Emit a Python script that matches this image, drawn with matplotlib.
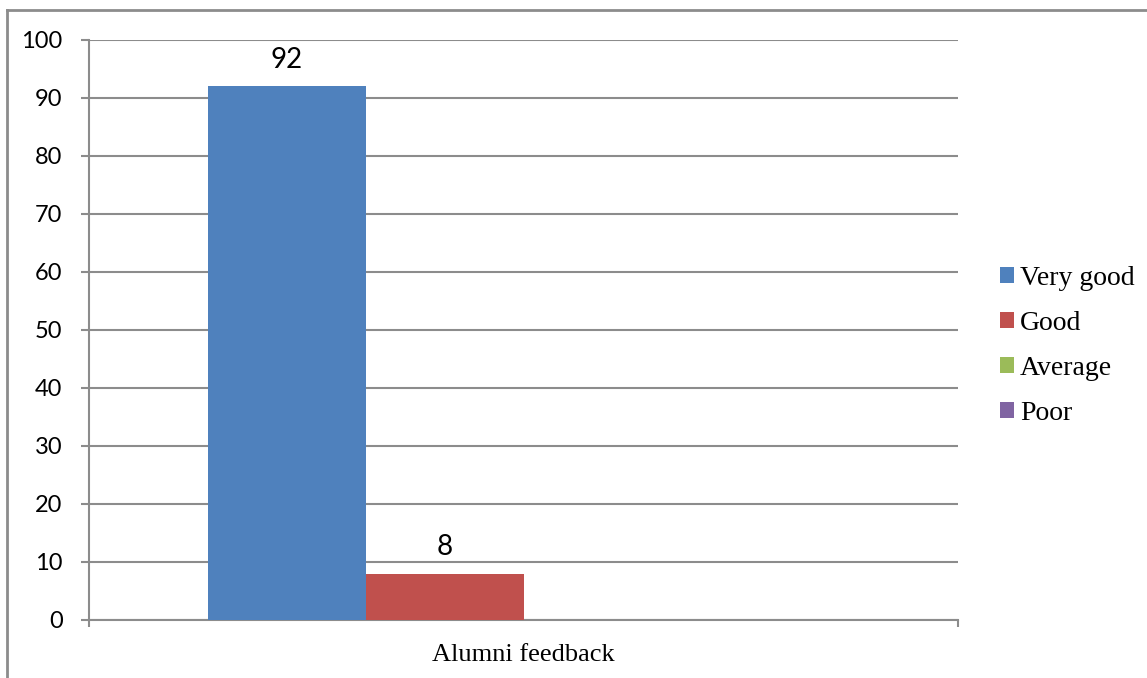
import matplotlib
matplotlib.use('Agg')
import matplotlib.pyplot as plt
from matplotlib.patches import Patch
from matplotlib.lines import Line2D

categories = ['Alumni feedback']
series = ['Very good', 'Good', 'Average', 'Poor']
values = [92, 8, 0, 0]
colors = ['#4F81BD', '#C0504D', '#9BBB59', '#8064A2']
yticks = [0, 10, 20, 30, 40, 50, 60, 70, 80, 90, 100]

grid_col = '#8c8c8c'

fig = plt.figure(figsize=(11.47, 6.78), dpi=100)
ax = fig.add_axes([89/1147, 1 - 620/678, (958 - 89)/1147, (620 - 40)/678])

# excel style: gap width 150%
w = 1 / (len(series) + 1.5)
for i, (s, v, c) in enumerate(zip(series, values, colors)):
    x = (i - (len(series) - 1) / 2) * w
    ax.bar(x, v, width=w, color=c, zorder=3)
    if v > 0:
        ax.annotate(str(v), (x, v), xytext=(0, 13.5), textcoords='offset points',
                    ha='center', va='baseline', fontsize=20, family='Lato')

ax.set_xlim(-0.5, 0.5)
ax.set_ylim(0, 100)
ax.set_yticks(yticks)
ax.yaxis.grid(True, color=grid_col, linewidth=1.5, zorder=0)
for sp in ['top', 'right']:
    ax.spines[sp].set_visible(False)
for sp in ['left', 'bottom']:
    ax.spines[sp].set_color(grid_col)
    ax.spines[sp].set_linewidth(1.5)
ax.tick_params(axis='y', length=6, width=1.5, color=grid_col, pad=13, labelsize=17)
for t in ax.get_yticklabels():
    t.set_family('Lato')

ax.set_xticks([0])
ax.set_xticklabels(categories, family='Liberation Serif', fontsize=19)
ax.set_xticks([-0.5, 0.5], minor=True)
ax.tick_params(axis='x', which='major', length=0, pad=17)
ax.tick_params(axis='x', which='minor', length=5, width=1.5, color=grid_col)

handles = [Patch(facecolor=c, edgecolor='none') for c in colors]
ax.legend(handles, series, loc='center left', bbox_to_anchor=(1000/1147, 1 - 346/678),
          bbox_transform=fig.transFigure, frameon=False,
          prop={'family': 'Liberation Serif', 'size': 20},
          handlelength=0.5, handleheight=0.5, handletextpad=0.22,
          labelspacing=0.72, borderaxespad=0, borderpad=0)

# outer chart border (top and left visible)
fig.add_artist(Line2D([7/1147, 7/1147], [0, 1 - 10/678], color='#8c8c8c', linewidth=2))
fig.add_artist(Line2D([7/1147, 1], [1 - 10/678, 1 - 10/678], color='#8c8c8c', linewidth=2))

fig.savefig('out.png', dpi=100)
